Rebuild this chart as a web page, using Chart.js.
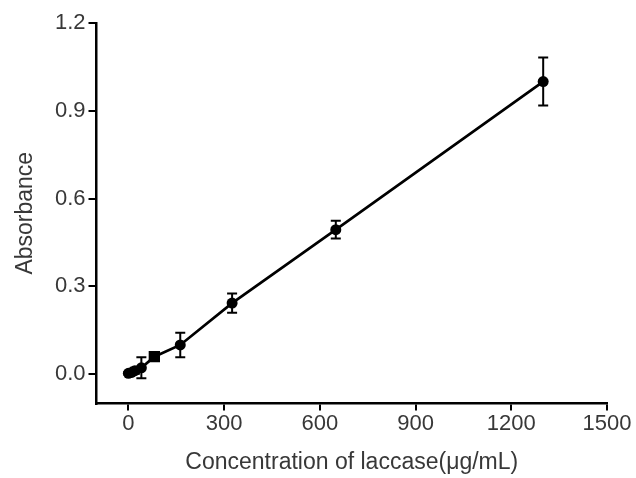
<!DOCTYPE html>
<html>
<head>
<meta charset="utf-8">
<script src="https://cdn.jsdelivr.net/npm/chart.js@4.4.1/dist/chart.umd.min.js"></script>
<style>
  body{margin:0;background:#fff}
  canvas{display:block}
</style>
</head>
<body>
<canvas id="grafico" width="636" height="478"></canvas>
<script>
// data
const concentration = [0, 10.2, 20.3, 40.6, 81.3, 162.5, 325, 650, 1300]
const absorbance = [0.003, 0.006, 0.012, 0.022, 0.06, 0.1, 0.243, 0.494, 1.0]
const sd = [0.005, 0.006, 0.01, 0.036, 0.012, 0.042, 0.033, 0.03, 0.082]
const xTicks = [0, 300, 600, 900, 1200, 1500]
const yTicks = [0.0, 0.3, 0.6, 0.9, 1.2]

const textColor = '#383838'

// vertical error bars, drawn with the chart's own scales
const barras = {
    id: 'barras',
    beforeDatasetsDraw(chart){
        const {ctx, scales:{x, y}} = chart
        ctx.save()
        ctx.strokeStyle = '#000'
        ctx.lineWidth = 2
        concentration.forEach((c, i) => {
            const px = x.getPixelForValue(c)
            const top = y.getPixelForValue(absorbance[i] + sd[i])
            const bot = y.getPixelForValue(absorbance[i] - sd[i])
            ctx.beginPath()
            ctx.moveTo(px, top); ctx.lineTo(px, bot)
            ctx.moveTo(px - 5, top); ctx.lineTo(px + 5, top)
            ctx.moveTo(px - 5, bot); ctx.lineTo(px + 5, bot)
            ctx.stroke()
        })
        ctx.restore()
    }
}

new Chart(document.getElementById('grafico'), {
    type: 'scatter',
    data: {
        datasets: [{
            data: concentration.map((c, i) => ({x: c, y: absorbance[i]})),
            showLine: true,
            borderColor: '#000',
            borderWidth: 2.7,
            backgroundColor: '#000',
            pointBackgroundColor: '#000',
            pointBorderWidth: 0,
            pointStyle: concentration.map((c, i) => i === 4 ? 'rect' : 'circle'),
            pointRadius: concentration.map((c, i) => i === 4 ? 8 : 5.5)
        }]
    },
    options: {
        responsive: false,
        animation: false,
        layout: { padding: { top: 23, right: 29, left: 0, bottom: 0 } },
        plugins: { legend: { display: false }, tooltip: { enabled: false } },
        scales: {
            x: {
                type: 'linear',
                min: -100, max: 1500,
                afterBuildTicks(scale){ scale.ticks = xTicks.map(v => ({value: v})) },
                afterFit(scale){ scale.height = 74.5 },
                border: { display: true, color: '#000', width: 2.5 },
                grid: { drawOnChartArea: false, color: '#000', lineWidth: 2, tickLength: 7 },
                ticks: {
                    autoSkip: false, maxRotation: 0, padding: 0,
                    color: textColor,
                    font: { family: 'Liberation Sans, Arial', size: 22 },
                    callback: v => String(v)
                },
                title: {
                    display: true,
                    text: 'Concentration of laccase(μg/mL)',
                    color: textColor,
                    font: { family: 'Liberation Sans, Arial', size: 23 },
                    padding: { top: 0, bottom: 2 }
                }
            },
            y: {
                min: -0.1, max: 1.2,
                afterBuildTicks(scale){ scale.ticks = yTicks.map(v => ({value: v})) },
                afterFit(scale){ scale.width = 96.5 },
                border: { display: true, color: '#000', width: 2.5 },
                grid: { drawOnChartArea: false, color: '#000', lineWidth: 2, tickLength: 8 },
                ticks: {
                    padding: 3,
                    color: textColor,
                    font: { family: 'Liberation Sans, Arial', size: 22 },
                    callback: v => v.toFixed(1)
                },
                title: {
                    display: true,
                    text: 'Absorbance',
                    color: textColor,
                    font: { family: 'Liberation Sans, Arial', size: 23 },
                    padding: { top: 12, bottom: 0 }
                }
            }
        }
    },
    plugins: [barras]
})
</script>
</body>
</html>
